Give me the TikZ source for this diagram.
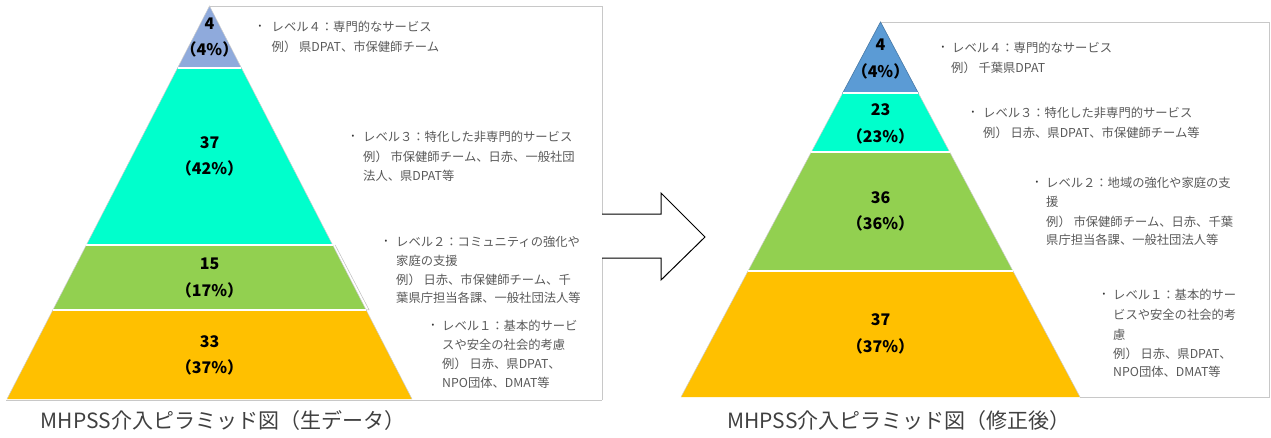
\documentclass[tikz,border=0pt]{standalone}
\usepackage{fontspec}
\setmainfont{Noto Sans CJK JP}
\usetikzlibrary{calc}
\definecolor{lvfour}{HTML}{8FAADC}
\definecolor{lvfourb}{HTML}{5B9BD5}
\definecolor{lvthree}{HTML}{00FFCC}
\definecolor{lvtwo}{HTML}{92D050}
\definecolor{lvone}{HTML}{FFC000}
\definecolor{desctext}{HTML}{595959}
\definecolor{captext}{HTML}{404040}
\definecolor{framegray}{HTML}{C8C8C8}
\tikzset{
  band/.style={draw=white,line width=1.2pt},
  num/.style={inner sep=0pt,font=\fontsize{16}{18}\selectfont\bfseries,text=black},
  desc/.style={anchor=west,inner sep=0pt,font=\fontsize{12.3}{14}\selectfont,text=desctext},
  bul/.style={inner sep=0pt,font=\fontsize{8}{9}\selectfont,text=black!80},
  capstyle/.style={inner sep=0pt,font=\fontsize{21}{24}\selectfont,text=captext},
  framestyle/.style={draw=framegray,line width=0.9pt},
  blockarrow/.style={draw=black,line width=1pt,line join=miter}
}
\begin{document}
\begin{tikzpicture}[x=1pt,y=-1pt]
\useasboundingbox (0,0) rectangle (1271,437);
% frames
\draw[framestyle] (209.5,6) -- (602,6) -- (602,400);
\draw[framestyle] (6,400) -- (602,400);
\draw[framestyle] (881,22) -- (1269,22) -- (1269,397) -- (1080,397);
% ---------- left pyramid ----------
\coordinate (LA) at (209.5,6);
\coordinate (LL) at (7,399);
\coordinate (LR) at (412,399);
\coordinate (L4l) at ($(LA)!0.1578!(LL)$);
\coordinate (L4r) at ($(LA)!0.1578!(LR)$);
\coordinate (L3l) at ($(LA)!0.6081!(LL)$);
\coordinate (L3r) at ($(LA)!0.6081!(LR)$);
\coordinate (L2l) at ($(LA)!0.7735!(LL)$);
\coordinate (L2r) at ($(LA)!0.7735!(LR)$);
\fill[lvone] (L2l) -- (L2r) -- (LR) -- (LL) -- cycle;
\fill[lvtwo] (L3l) -- (L3r) -- (L2r) -- (L2l) -- cycle;
\fill[lvthree] (L4l) -- (L4r) -- (L3r) -- (L3l) -- cycle;
\fill[lvfour] (LA) -- (L4r) -- (L4l) -- cycle;
\draw[draw=black!20,line width=0.5pt] (LL) -- (LA) -- (LR);
\draw[band] (L4l) -- (L4r);
\draw[band] (L3l) -- (L3r);
\draw[band] (L2l) -- (L2r);
\draw[draw=black!25,line width=0.5pt] ($(L3r)+(2.5,0)$) -- ($(L2r)+(3,0)$) -- (L2r);
% left numbers
\node[num] (ln4) at (209.5,24) {4};
\node[num] (lp4) at (209.5,49) {（4\%）};
\node[num] (ln3) at (209.5,143) {37};
\node[num] (lp3) at (209.5,168) {（42\%）};
\node[num] (ln2) at (209.5,264) {15};
\node[num] (lp2) at (209.5,290) {（17\%）};
\node[num] (ln1) at (209.5,342) {33};
\node[num] (lp1) at (209.5,367) {（37\%）};
% left descriptions
\node[bul] (lb4) at (260,27) {•};
\node[desc] (ld4a) at (271.5,27) {レベル４：専門的なサービス};
\node[desc] (ld4b) at (271.5,47) {例） 県DPAT、市保健師チーム};
\node[bul] (lb3) at (353,137) {•};
\node[desc] (ld3a) at (363,137) {レベル３：特化した非専門的サービス};
\node[desc] (ld3b) at (363,157) {例） 市保健師チーム、日赤、一般社団};
\node[desc] (ld3c) at (363,176) {法人、県DPAT等};
\node[bul] (lb2) at (386,242) {•};
\node[desc] (ld2a) at (396,242) {レベル２：コミュニティの強化や};
\node[desc] (ld2b) at (396,261) {家庭の支援};
\node[desc] (ld2c) at (396,280) {例） 日赤、市保健師チーム、千};
\node[desc] (ld2d) at (396,298) {葉県庁担当各課、一般社団法人等};
\node[bul] (lb1) at (433,326) {•};
\node[desc] (ld1a) at (442,326) {レベル１：基本的サービ};
\node[desc] (ld1b) at (442,345) {スや安全の社会的考慮};
\node[desc] (ld1c) at (442,364) {例） 日赤、県DPAT、};
\node[desc] (ld1d) at (442,383) {NPO団体、DMAT等};
\node[capstyle] (lcap) at (223,421) {MHPSS介入ピラミッド図（生データ）};
% ---------- arrow ----------
\fill[white] (602,214) -- (661,214) -- (661,193) -- (705,237) -- (661,280) -- (661,258) -- (602,258) -- cycle;
\draw[blockarrow] (602,214) -- (661,214) -- (661,193) -- (705,237) -- (661,280) -- (661,258) -- (602,258);
% ---------- right pyramid ----------
\coordinate (RA) at (880.5,22);
\coordinate (RL) at (681,397);
\coordinate (RR) at (1080,397);
\coordinate (R4l) at ($(RA)!0.1893!(RL)$);
\coordinate (R4r) at ($(RA)!0.1893!(RR)$);
\coordinate (R3l) at ($(RA)!0.3467!(RL)$);
\coordinate (R3r) at ($(RA)!0.3467!(RR)$);
\coordinate (R2l) at ($(RA)!0.664!(RL)$);
\coordinate (R2r) at ($(RA)!0.664!(RR)$);
\fill[lvone] (R2l) -- (R2r) -- (RR) -- (RL) -- cycle;
\fill[lvtwo] (R3l) -- (R3r) -- (R2r) -- (R2l) -- cycle;
\fill[lvthree] (R4l) -- (R4r) -- (R3r) -- (R3l) -- cycle;
\draw[draw=black!20,line width=0.5pt] (RL) -- (RA) -- (RR);
\filldraw[fill=lvfourb,draw=lvfourb!80!black,line width=0.6pt] (RA) -- (R4r) -- (R4l) -- cycle;
\draw[band] (R4l) -- (R4r);
\draw[band] (R3l) -- (R3r);
\draw[band] (R2l) -- (R2r);
% right numbers
\node[num] (rn4) at (880.5,45) {4};
\node[num] (rp4) at (880.5,71) {（4\%）};
\node[num] (rn3) at (880.5,110) {23};
\node[num] (rp3) at (880.5,136) {（23\%）};
\node[num] (rn2) at (880.5,198) {36};
\node[num] (rp2) at (880.5,223) {（36\%）};
\node[num] (rn1) at (880.5,320) {37};
\node[num] (rp1) at (880.5,346) {（37\%）};
% right descriptions
\node[bul] (rb4) at (943,48) {•};
\node[desc] (rd4a) at (952,48) {レベル４：専門的なサービス};
\node[desc] (rd4b) at (951,68) {例） 千葉県DPAT};
\node[bul] (rb3) at (973,113) {•};
\node[desc] (rd3a) at (983,113) {レベル３：特化した非専門的サービス};
\node[desc] (rd3b) at (983,133) {例） 日赤、県DPAT、市保健師チーム等};
\node[bul] (rb2) at (1037,183) {•};
\node[desc] (rd2a) at (1046,183) {レベル２：地域の強化や家庭の支};
\node[desc] (rd2b) at (1046,202) {援};
\node[desc] (rd2c) at (1046,222) {例） 市保健師チーム、日赤、千葉};
\node[desc] (rd2d) at (1046,240) {県庁担当各課、一般社団法人等};
\node[bul] (rb1) at (1104,295) {•};
\node[desc] (rd1a) at (1113,295) {レベル１：基本的サー};
\node[desc] (rd1b) at (1113,315) {ビスや安全の社会的考};
\node[desc] (rd1c) at (1113,335) {慮};
\node[desc] (rd1d) at (1113,354) {例） 日赤、県DPAT、};
\node[desc] (rd1e) at (1113,372) {NPO団体、DMAT等};
\node[capstyle] (rcap) at (899,421) {MHPSS介入ピラミッド図（修正後）};
\end{tikzpicture}
\end{document}
